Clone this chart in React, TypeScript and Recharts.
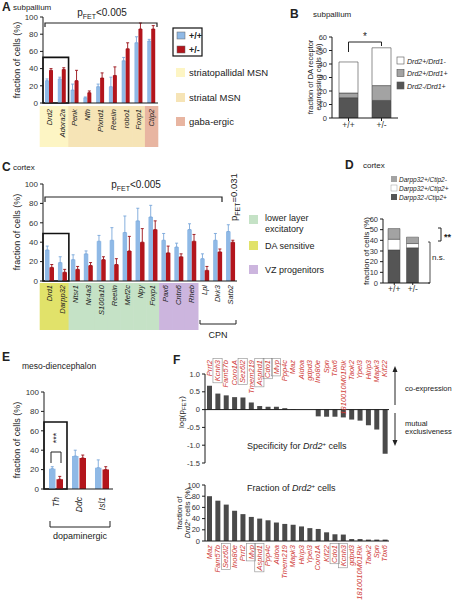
import React from 'react';
import { BarChart, Bar, XAxis, YAxis, ErrorBar, ReferenceArea, ReferenceLine } from 'recharts';

const FONT = '"Liberation Sans", Arial, Helvetica, sans-serif';
const AXIS = '#1a1a1a';
const TXT = '#222';
const BLUE = '#8fb9e6';
const BLUE_ERR = '#79a7da';
const RED = '#b3151c';
const RED_ERR = '#9a1016';
const DARK = '#4a4a4a';
const MID = '#a3a3a3';
const GENE_RED = '#cf3b36';

// ---------- Panel A : subpallium ----------
const aGenes = ['Drd2', 'Adora2a', 'Penk', 'Nfh', 'Plxnd1', 'Reelin', 'robo1', 'Foxp1', 'Ctip2'];
const aGroups = ['striatopallidal', 'striatopallidal', 'striatal', 'striatal', 'striatal', 'striatal', 'striatal', 'striatal', 'gaba'];
const aWT = [26, 28, 15, 6, 19, 19, 49, 70, 72];
const aWTErr = [2, 2, 7, 1, 3, 11, 4, 7, 2];
const aHet = [38, 39, 26, 12, 29, 32, 63, 86, 86];
const aHetErr = [2, 2, 12, 2, 6, 10, 7, 7, 4];
const aTicks = [0, 20, 40, 60, 80, 100];

// ---------- Panel B : subpallium DA receptors ----------
const bGenotypes = ['+/+', '+/-'];
const bD2negD1pos = [15, 13];
const bD2posD1pos = [3.5, 11];
const bD2posD1neg = [23, 28];
const bTicks = [0, 10, 20, 30, 40, 50, 60];

// ---------- Panel C : cortex ----------
const cGenes = ['Drd1', 'Darpp32', 'Ntsr1', 'Nr4a3', 'S100a10', 'Reelin', 'Mef2c', 'Npy', 'Foxp1', 'Pax6', 'Cntn6', 'Rheb', 'Lpl', 'Dkk3', 'Satb2'];
const cGroups = ['da', 'da', 'lower', 'lower', 'lower', 'lower', 'lower', 'lower', 'lower', 'vz', 'vz', 'vz', 'cpn', 'cpn', 'cpn'];
const cWT = [32, 19, 22, 28, 41, 42, 50, 62, 66, 42, 35, 53, 23, 42, 51];
const cWTErr = [4, 6, 5, 3, 6, 13, 17, 13, 12, 7, 4, 6, 5, 7, 7];
const cHet = [14, 9, 12, 16, 22, 17, 31, 40, 53, 29, 25, 41, 11, 30, 40];
const cHetErr = [3, 3, 3, 3, 3, 6, 15, 14, 9, 7, 3, 7, 4, 3, 2];
const cTicks = [0, 20, 40, 60, 80, 100];

// ---------- Panel D : cortex Darpp32/Ctip2 ----------
const dGenotypes = ['+/+', '+/-'];
const dDarppNegCtipPos = [31, 33];
const dDarppPosCtipPos = [10, 4];
const dDarppPosCtipNeg = [10, 6];
const dTicks = [0, 10, 20, 30, 40, 50, 60];

// ---------- Panel E : meso-diencephalon ----------
const eGenes = ['Th', 'Ddc', 'Isl1'];
const eWT = [21, 34, 22];
const eWTErr = [2, 6, 8];
const eHet = [10, 32, 20];
const eHetErr = [3, 3, 3];
const eTicks = [0, 20, 40, 60, 80, 100];

// ---------- Panel F ----------
const fSpecGenes = ['Prrt2', 'Kcnh3', 'Fam57b', 'Coro1A', 'Sez6l2', 'Tmem219', 'Asphd1', 'Cdo1', 'Mvp', 'Ppp4c', 'Maz', 'Aldoa', 'gdpd3', 'Ino80e', 'Spn', 'Tbx6', '1810010M01Rik', 'Taok2', 'Ypel3', 'Hirip3', 'Mapk3', 'Kif22'];
const fSpecVals = [0.67, 0.45, 0.4, 0.35, 0.34, 0.2, 0.1, 0.08, 0.08, 0.04, 0.01, 0, 0, -0.19, -0.2, -0.2, -0.22, -0.28, -0.31, -0.44, -0.56, -1.24];
const fSpecTicks = [-1.5, -1, -0.5, 0, 0.5, 1];
const fFracGenes = ['Maz', 'Fam57b', 'Sez6l2', 'Ino80e', 'Prrt2', 'Mvp', 'Asphd1', 'Ppp4c', 'Aldoa', 'Tmem219', 'Mapk3', 'Hirip3', 'Ypel3', 'Coro1A', 'Kif22', 'Cdo1', 'Kcnh3', 'gdpd3', '1810010M01Rik', 'Taok2', 'Spn', 'Tbx6'];
const fFracVals = [80, 72, 65, 54, 48, 43, 40, 37, 33, 30.5, 29, 26, 23, 21.5, 15.5, 12, 11.5, 3.5, 3.5, 2.5, 2.5, 2.5];
const fFracTicks = [0, 20, 40, 60, 80, 100];
const fBoxed = ['Kcnh3', 'Sez6l2', 'Asphd1', 'Cdo1', 'Mvp'];

// ---------- tables ----------
const aData = aGenes.map((g, i) => ({ gene: g, wt: aWT[i], het: aHet[i], wtErr: [0, aWTErr[i]], hetErr: [0, aHetErr[i]] }));
const bData = bGenotypes.map((g, i) => ({ g, s1: bD2negD1pos[i], s2: bD2posD1pos[i], s3: bD2posD1neg[i] }));
const cData = cGenes.map((g, i) => ({ gene: g, wt: cWT[i], het: cHet[i], wtErr: [0, cWTErr[i]], hetErr: [0, cHetErr[i]] }));
const dData = dGenotypes.map((g, i) => ({ g, s1: dDarppNegCtipPos[i], s2: dDarppPosCtipPos[i], s3: dDarppPosCtipNeg[i] }));
const eData = eGenes.map((g, i) => ({ gene: g, wt: eWT[i], het: eHet[i], wtErr: [0, eWTErr[i]], hetErr: [0, eHetErr[i]] }));
const fSpecData = fSpecGenes.map((g, i) => ({ gene: g, v: fSpecVals[i] }));
const fFracData = fFracGenes.map((g, i) => ({ gene: g, v: fFracVals[i] }));

const charW = (ch: string) => {
  if ('ijlI|.,:;'.includes(ch)) return 0.24;
  if ('tfr-() '.includes(ch)) return 0.32;
  if ('mwMW'.includes(ch)) return 0.84;
  if (ch >= 'A' && ch <= 'Z') return 0.68;
  return 0.54;
};
const textLen = (s: string, fs: number) => s.split('').reduce((a, c) => a + charW(c), 0) * fs;

const rotLabel = (x: number, y: number, label: string, fs: number, fill: string) => (
  <text x={x} y={y} transform={`rotate(-90 ${x} ${y})`} textAnchor="end" dominantBaseline="central"
    fontSize={fs} fontStyle="italic" fill={fill} fontFamily={FONT}>{label}</text>
);

const A_BAND = 115 / 9;
const aGroupFill: Record<string, string> = { striatopallidal: '#fdf5c4', striatal: '#f6e4b6', gaba: '#e8b5a1' };
const ATick = (p: any) => {
  const { x, y, payload } = p;
  const i = aGenes.indexOf(payload.value);
  const ext = i === 0 ? 3 : 0;
  return (
    <g>
      <rect x={x - A_BAND / 2 - 0.3 - ext} y={y + 3} width={A_BAND + 0.6 + ext} height={41} fill={aGroupFill[aGroups[i]]} />
      {rotLabel(x, y + 6, payload.value, 7.5, TXT)}
    </g>
  );
};

const C_BAND = 194 / 15;
const cGroupFill: Record<string, string | null> = { da: '#e1e26a', lower: '#c5e2c6', vz: '#ccb5de', cpn: null };
const CTick = (p: any) => {
  const { x, y, payload } = p;
  const i = cGenes.indexOf(payload.value);
  const fill = cGroupFill[cGroups[i]];
  const ext = i === 0 ? 3 : 0;
  return (
    <g>
      {fill && <rect x={x - C_BAND / 2 - 0.3 - ext} y={y + 2} width={C_BAND + 0.6 + ext} height={47} fill={fill} />}
      {rotLabel(x, y + 4, payload.value, 7.5, TXT)}
    </g>
  );
};

const ETick = (p: any) => <g>{rotLabel(p.x, p.y + 8, p.payload.value, 8.5, TXT)}</g>;

const geneTick = (offset: number) => (p: any) => {
  const { x, y, payload } = p;
  const name = payload.value as string;
  const ay = y + offset;
  const fs = 7.5;
  const len = textLen(name, fs);
  return (
    <g>
      {fBoxed.includes(name) && (
        <rect x={x - 4.6} y={ay - 1.5} width={9.2} height={len + 3} fill="none" stroke="#8c8c8c" strokeWidth={0.6} />
      )}
      {rotLabel(x, ay, name, fs, GENE_RED)}
    </g>
  );
};
const FTopTick = geneTick(-14);
const FBotTick = geneTick(4);

const yTick = (fs: number) => ({ fontSize: fs, fill: '#333', fontFamily: FONT });

const abs = (left: number, top: number): React.CSSProperties => ({ position: 'absolute', left, top });

export default function App() {
  return (
    <div style={{ position: 'relative', width: 458, height: 600, background: '#fff', overflow: 'hidden', fontFamily: FONT }}>
      <style>{'body{margin:0}'}</style>

      {/* Panel A */}
      <div style={abs(0, 0)}>
        <BarChart width={170} height={150} data={aData} margin={{ top: 17, right: 12, bottom: 3, left: 13 }} barGap={0} barSize={4}>
          <XAxis dataKey="gene" interval={0} height={44} tickLine={false} tickSize={0} tickMargin={0} axisLine={{ stroke: AXIS }} tick={ATick} />
          <YAxis domain={[0, 100]} ticks={aTicks} interval={0} allowDataOverflow width={30} tickSize={3} tickMargin={2} axisLine={{ stroke: AXIS }} tickLine={{ stroke: AXIS }} tick={yTick(8)} />
          <ReferenceArea x1="Drd2" x2="Adora2a" y1={0} y2={53} fill="none" stroke="#111" strokeWidth={1.6} ifOverflow="visible" />
          <Bar dataKey="wt" fill={BLUE} isAnimationActive={false}>
            <ErrorBar dataKey="wtErr" width={1.5} strokeWidth={0.9} stroke={BLUE_ERR} />
          </Bar>
          <Bar dataKey="het" fill={RED} isAnimationActive={false}>
            <ErrorBar dataKey="hetErr" width={1.5} strokeWidth={0.9} stroke={RED_ERR} />
          </Bar>
        </BarChart>
      </div>

      {/* Panel B */}
      <div style={abs(300, 20)}>
        <BarChart width={110} height={115} data={bData} margin={{ top: 17, right: 12, bottom: 2, left: 7 }} barSize={19}>
          <XAxis dataKey="g" interval={0} height={15} tickSize={3} tickMargin={1} axisLine={{ stroke: AXIS }} tickLine={{ stroke: AXIS }} tick={yTick(8.5)} />
          <YAxis domain={[0, 60]} ticks={bTicks} interval={0} allowDataOverflow width={25} tickSize={3} tickMargin={2} axisLine={{ stroke: AXIS }} tickLine={{ stroke: AXIS }} tick={yTick(7.5)} />
          <Bar dataKey="s1" stackId="s" fill="#555" stroke="#444" strokeWidth={0.6} isAnimationActive={false} />
          <Bar dataKey="s2" stackId="s" fill={MID} stroke="#444" strokeWidth={0.6} isAnimationActive={false} />
          <Bar dataKey="s3" stackId="s" fill="#fff" stroke="#444" strokeWidth={0.6} isAnimationActive={false} />
        </BarChart>
      </div>

      {/* Panel C */}
      <div style={abs(0, 150)}>
        <BarChart width={245} height={190} data={cData} margin={{ top: 34, right: 8, bottom: 9, left: 13 }} barGap={0} barSize={4.5}>
          <XAxis dataKey="gene" interval={0} height={50} tickLine={false} tickSize={0} tickMargin={0} axisLine={{ stroke: AXIS }} tick={CTick} />
          <YAxis domain={[0, 100]} ticks={cTicks} interval={0} allowDataOverflow width={30} tickSize={3} tickMargin={2} axisLine={{ stroke: AXIS }} tickLine={{ stroke: AXIS }} tick={yTick(8)} />
          <ReferenceArea x1="Drd1" x2="Darpp32" y1={0} y2={49} fill="none" stroke="#111" strokeWidth={1.6} ifOverflow="visible" />
          <Bar dataKey="wt" fill={BLUE} isAnimationActive={false}>
            <ErrorBar dataKey="wtErr" width={1.5} strokeWidth={0.9} stroke={BLUE_ERR} />
          </Bar>
          <Bar dataKey="het" fill={RED} isAnimationActive={false}>
            <ErrorBar dataKey="hetErr" width={1.5} strokeWidth={0.9} stroke={RED_ERR} />
          </Bar>
        </BarChart>
      </div>

      {/* Panel D */}
      <div style={abs(345, 205)}>
        <BarChart width={100} height={95} data={dData} margin={{ top: 14, right: 15, bottom: 3, left: 13 }} barSize={12}>
          <XAxis dataKey="g" interval={0} height={14} padding={{ left: 2, right: 8 }} tickSize={2} tickMargin={1} axisLine={{ stroke: AXIS }} tickLine={{ stroke: AXIS }} tick={yTick(8.5)} />
          <YAxis domain={[0, 60]} ticks={dTicks} interval={0} allowDataOverflow width={25} tickSize={3} tickMargin={2} axisLine={{ stroke: AXIS }} tickLine={{ stroke: AXIS }} tick={yTick(7.5)} />
          <Bar dataKey="s1" stackId="s" fill="#555" stroke="#444" strokeWidth={0.5} isAnimationActive={false} />
          <Bar dataKey="s2" stackId="s" fill="#fff" stroke="#444" strokeWidth={0.5} isAnimationActive={false} />
          <Bar dataKey="s3" stackId="s" fill={MID} stroke="#444" strokeWidth={0.5} isAnimationActive={false} />
        </BarChart>
      </div>

      {/* Panel E */}
      <div style={abs(0, 380)}>
        <BarChart width={125} height={150} data={eData} margin={{ top: 12, right: 12, bottom: 11, left: 14 }} barGap={1} barSize={6.5}>
          <XAxis dataKey="gene" interval={0} height={30} tickLine={false} tickSize={0} tickMargin={0} axisLine={{ stroke: AXIS }} tick={ETick} />
          <YAxis domain={[0, 100]} ticks={eTicks} interval={0} allowDataOverflow width={30} tickSize={3} tickMargin={2} axisLine={{ stroke: AXIS }} tickLine={{ stroke: AXIS }} tick={yTick(8)} />
          <ReferenceArea x1="Th" x2="Th" y1={0} y2={69} fill="none" stroke="#111" strokeWidth={1.6} ifOverflow="visible" />
          <Bar dataKey="wt" fill={BLUE} isAnimationActive={false}>
            <ErrorBar dataKey="wtErr" width={1.5} strokeWidth={0.9} stroke={BLUE_ERR} />
          </Bar>
          <Bar dataKey="het" fill={RED} isAnimationActive={false}>
            <ErrorBar dataKey="hetErr" width={1.5} strokeWidth={0.9} stroke={RED_ERR} />
          </Bar>
        </BarChart>
      </div>

      {/* Panel F top */}
      <div style={abs(170, 355)}>
        <BarChart width={230} height={115} data={fSpecData} margin={{ top: 5, right: 11, bottom: 7, left: 5 }} barSize={5}>
          <XAxis dataKey="gene" orientation="top" interval={0} height={14} axisLine={false} tickLine={false} tickSize={0} tickMargin={0} tick={FTopTick} />
          <YAxis domain={[-1.5, 1]} ticks={fSpecTicks} interval={0} allowDataOverflow width={30} tickSize={3} tickMargin={2}
            axisLine={{ stroke: AXIS }} tickLine={{ stroke: AXIS }} tick={yTick(7.5)}
            tickFormatter={(v: number) => (v === 0 ? '0' : v.toFixed(1))} />
          <ReferenceLine y={0} stroke={AXIS} strokeWidth={1} />
          <Bar dataKey="v" fill={DARK} isAnimationActive={false} />
        </BarChart>
      </div>

      {/* Panel F bottom */}
      <div style={abs(170, 475)}>
        <BarChart width={230} height={125} data={fFracData} margin={{ top: 10, right: 11, bottom: 0, left: 5 }} barSize={5}>
          <XAxis dataKey="gene" interval={0} height={59} axisLine={{ stroke: AXIS }} tickLine={false} tickSize={0} tickMargin={0} tick={FBotTick} />
          <YAxis domain={[0, 100]} ticks={fFracTicks} interval={0} allowDataOverflow width={30} tickSize={3} tickMargin={2} axisLine={{ stroke: AXIS }} tickLine={{ stroke: AXIS }} tick={yTick(7.5)} />
          <Bar dataKey="v" fill={DARK} isAnimationActive={false} />
        </BarChart>
      </div>

      {/* Annotations */}
      <svg width={458} height={600} style={{ position: 'absolute', left: 0, top: 0, pointerEvents: 'none' }} fontFamily={FONT} fill={TXT}>
        {/* A */}
        <text x={2} y={11} fontSize={12} fontWeight="bold">A</text>
        <text x={13} y={10} fontSize={8}>subpallium</text>
        <text transform="rotate(-90 20 60)" x={20} y={60} textAnchor="middle" fontSize={9}>fraction of cells (%)</text>
        <path d="M45,27 V23 H157 V27" fill="none" stroke="#222" strokeWidth={1.2} />
        <text x={102} y={16} textAnchor="middle" fontSize={10}>p<tspan fontSize={7} dy={2.5}>FET</tspan><tspan dy={-2.5}>{'<0.005'}</tspan></text>
        <rect x={173} y={28} width={29} height={28} fill="none" stroke="#111" strokeWidth={1.2} />
        <rect x={177} y={32} width={8} height={7} fill={BLUE} stroke="#666" strokeWidth={0.5} />
        <text x={189} y={39} fontSize={9} fontWeight="bold">+/+</text>
        <rect x={177} y={46} width={8} height={7} fill={RED} stroke="#666" strokeWidth={0.5} />
        <text x={189} y={53} fontSize={9} fontWeight="bold">+/-</text>
        <rect x={176} y={68} width={9} height={9} fill={aGroupFill.striatopallidal} />
        <text x={189} y={76} fontSize={9.5}>striatopallidal MSN</text>
        <rect x={176} y={93} width={9} height={9} fill={aGroupFill.striatal} />
        <text x={189} y={101} fontSize={9.5}>striatal MSN</text>
        <rect x={176} y={117} width={9} height={9} fill={aGroupFill.gaba} />
        <text x={189} y={125} fontSize={9.5}>gaba-ergic</text>

        {/* B */}
        <text x={290} y={18} fontSize={12} fontWeight="bold">B</text>
        <text x={313} y={17} fontSize={8}>subpallium</text>
        <text transform="rotate(-90 313 77)" x={313} y={77} textAnchor="middle" fontSize={7.5}>fraction of DA receptor</text>
        <text transform="rotate(-90 321 77)" x={321} y={77} textAnchor="middle" fontSize={7.5}>expressing cells (%)</text>
        <path d="M348.5,52 V42 H381.5 V46" fill="none" stroke="#222" strokeWidth={1} />
        <text x={365} y={40} textAnchor="middle" fontSize={10}>*</text>
        <rect x={397} y={57} width={7} height={7} fill="#fff" stroke="#555" strokeWidth={0.6} />
        <text x={407} y={63.5} fontSize={7} fontStyle="italic">Drd2+/Drd1-</text>
        <rect x={397} y={69.5} width={7} height={7} fill={MID} stroke="#555" strokeWidth={0.6} />
        <text x={407} y={76} fontSize={7} fontStyle="italic">Drd2+/Drd1+</text>
        <rect x={397} y={82} width={7} height={7} fill="#555" stroke="#555" strokeWidth={0.6} />
        <text x={407} y={88.5} fontSize={7} fontStyle="italic">Drd2-/Drd1+</text>

        {/* C */}
        <text x={2} y={171} fontSize={12} fontWeight="bold">C</text>
        <text x={13} y={170} fontSize={8}>cortex</text>
        <text transform="rotate(-90 20 232)" x={20} y={232} textAnchor="middle" fontSize={9}>fraction of cells (%)</text>
        <path d="M45,202 V197 H222 V202" fill="none" stroke="#222" strokeWidth={1.2} />
        <text x={136} y={188} textAnchor="middle" fontSize={10}>p<tspan fontSize={7} dy={2.5}>FET</tspan><tspan dy={-2.5}>{'<0.005'}</tspan></text>
        <text transform="rotate(-90 237 221)" x={237} y={221} fontSize={9.5}>p<tspan fontSize={7} dy={2.5}>FET</tspan><tspan dy={-2.5}>=0.031</tspan></text>
        <path d="M200,320 V324 H236 V320" fill="none" stroke="#222" strokeWidth={1} />
        <text x={218} y={338} textAnchor="middle" fontSize={9}>CPN</text>
        <rect x={249} y={215} width={9} height={9} fill={cGroupFill.lower as string} />
        <text x={265} y={221} fontSize={9}>lower layer</text>
        <text x={265} y={232} fontSize={9}>excitatory</text>
        <rect x={249} y={241} width={9} height={9} fill={cGroupFill.da as string} />
        <text x={265} y={249} fontSize={9}>DA sensitive</text>
        <rect x={249} y={265} width={9} height={9} fill={cGroupFill.vz as string} />
        <text x={265} y={273} fontSize={9}>VZ progenitors</text>

        {/* D */}
        <text x={345} y={169} fontSize={12} fontWeight="bold">D</text>
        <text x={363} y={168} fontSize={8}>cortex</text>
        <rect x={391} y={176} width={6} height={6} fill={MID} />
        <text x={399} y={181.5} fontSize={6.5} fontStyle="italic">Darpp32+/Ctip2-</text>
        <rect x={391} y={185} width={6} height={6} fill="#fff" stroke="#888" strokeWidth={0.4} />
        <text x={399} y={190.5} fontSize={6.5} fontStyle="italic">Darpp32+/Ctip2+</text>
        <rect x={391} y={194} width={6} height={6} fill="#555" />
        <text x={399} y={199.5} fontSize={6.5} fontStyle="italic">Darpp32-/Ctip2+</text>
        <text transform="rotate(-90 369 251)" x={369} y={251} textAnchor="middle" fontSize={8}>fraction of cells (%)</text>
        <path d="M438,228 H441 V241 H438" fill="none" stroke="#222" strokeWidth={1} />
        <text x={444} y={240} fontSize={9} fontWeight="bold">**</text>
        <path d="M428,242 H430 V283 H428" fill="none" stroke="#222" strokeWidth={0.8} />
        <text x={432} y={260} fontSize={8}>n.s.</text>

        {/* E */}
        <text x={2} y={361} fontSize={12} fontWeight="bold">E</text>
        <text x={22} y={369} fontSize={8.5}>meso-diencephalon</text>
        <text transform="rotate(-90 20 440)" x={20} y={440} textAnchor="middle" fontSize={9}>fraction of cells (%)</text>
        <text transform="rotate(-90 59 438)" x={59} y={438} textAnchor="middle" fontSize={9}>***</text>
        <path d="M51,463 V452 H61 V463" fill="none" stroke="#222" strokeWidth={1} />
        <path d="M50,521 V527 H110 V521" fill="none" stroke="#222" strokeWidth={1} />
        <text x={80} y={539} textAnchor="middle" fontSize={9}>dopaminergic</text>

        {/* F */}
        <text x={173} y={364} fontSize={12} fontWeight="bold">F</text>
        <text transform="rotate(-90 184 412)" x={184} y={412} textAnchor="middle" fontSize={8}>log(p<tspan fontSize={6} dy={2}>FET</tspan><tspan dy={-2}>)</tspan></text>
        <line x1={395} y1={405} x2={395} y2={371} stroke="#222" strokeWidth={1} />
        <polygon points="395,366 392.5,372 397.5,372" fill="#222" />
        <text x={405} y={391} fontSize={7.5}>co-expression</text>
        <line x1={395} y1={413} x2={395} y2={441} stroke="#222" strokeWidth={1} />
        <polygon points="395,446 392.5,440 397.5,440" fill="#222" />
        <text x={405} y={426} fontSize={7.5}>mutual</text>
        <text x={405} y={434} fontSize={7.5}>exclusiveness</text>
        <text x={247} y={449} fontSize={9}>Specificity for <tspan fontStyle="italic">Drd2</tspan><tspan fontSize={6} dy={-3}>+</tspan><tspan dy={3}> cells</tspan></text>
        <text x={247} y={491} fontSize={9}>Fraction of <tspan fontStyle="italic">Drd2</tspan><tspan fontSize={6} dy={-3}>+</tspan><tspan dy={3}> cells</tspan></text>
        <text transform="rotate(-90 182 513)" x={182} y={513} textAnchor="middle" fontSize={7.5}>fraction of</text>
        <text transform="rotate(-90 190 513)" x={190} y={513} textAnchor="middle" fontSize={7.5}><tspan fontStyle="italic">Drd2</tspan><tspan fontSize={5.5} dy={-2.5}>+</tspan><tspan dy={2.5}> cells (%)</tspan></text>
      </svg>
    </div>
  );
}
